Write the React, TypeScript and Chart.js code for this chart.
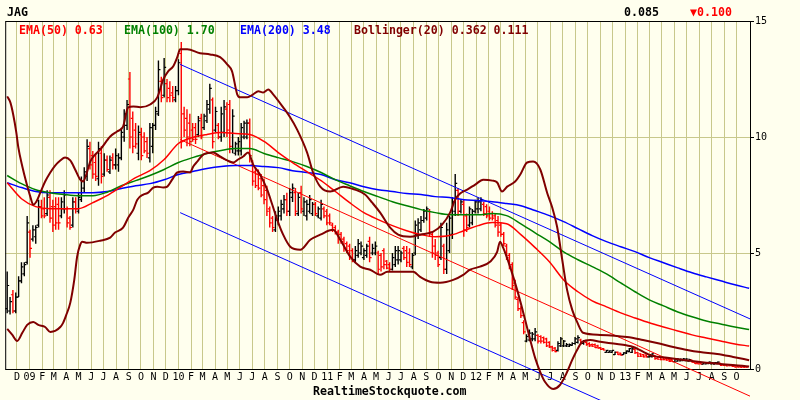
import React, { useEffect, useRef } from "react";
import { Chart, registerables } from "chart.js";

Chart.register(...registerables);

// ---------- text ----------
const TICKER = "JAG";
const LAST_PRICE = "0.085";
const CHANGE = "\u25BC0.100";
const FOOTER = "RealtimeStockquote.com";
const LEGEND_ITEMS = [
  { text: "EMA(50) 0.63", color: "#ff0000" },
  { text: "EMA(100) 1.70", color: "#008000" },
  { text: "EMA(200) 3.48", color: "#0000ff" },
  { text: "Bollinger(20) 0.362 0.111", color: "#800000" },
];
const MONTH_CODES = ["J", "F", "M", "A", "M", "J", "J", "A", "S", "O", "N", "D"];
const Y_TICKS = [0, 5, 10, 15];

// ---------- weekly OHLC (week 0 = week of 7 Nov 2008) ----------
const opens = [
  2.6, 2.5, 3.2, 2.5, 3.1, 3.8, 4.1, 4.6, 5.9, 5.6,
  5.7, 6.2, 7.0, 6.9, 6.7, 7.4, 7.0, 7.0, 7.1, 6.6,
  6.9, 6.9, 6.5, 6.2, 7.2, 6.8, 7.3, 7.8, 8.3, 9.5,
  9.2, 8.9, 8.2, 9.3, 8.4, 9.0, 8.5, 9.1, 8.8, 8.8,
  9.1, 10.0, 10.5, 12.5, 10.8, 10.3, 9.3, 10.1, 10.0, 9.8,
  9.1, 9.6, 10.5, 11.0, 12.4, 11.8, 12.3, 12.1, 11.9, 11.6,
  12.0, 13.6, 11.0, 10.8, 10.6, 10.3, 10.4, 10.1, 10.8, 10.4,
  10.7, 11.2, 11.6, 10.3, 10.5, 10.0, 10.2, 11.2, 11.4, 9.5,
  9.3, 9.4, 9.4, 10.0, 10.0, 10.6, 8.8, 8.5, 8.4, 8.2,
  7.9, 7.7, 6.9, 6.5, 6.0, 6.4, 6.6, 6.9, 7.3, 6.8,
  7.4, 7.6, 6.7, 7.6, 6.8, 6.6, 6.8, 6.7, 7.1, 6.6,
  6.5, 6.9, 6.8, 6.6, 6.2, 6.1, 5.9, 5.8, 5.6, 5.4,
  5.3, 5.1, 4.7, 4.9, 5.0, 4.8, 4.9, 5.5, 5.0, 5.0,
  5.0, 4.9, 5.1, 4.65, 4.5, 4.3, 4.5, 4.7, 4.7, 5.2,
  5.1, 5.0, 4.4, 5.0, 5.8, 6.0, 6.4, 6.5, 6.8, 5.8,
  5.3, 5.0, 4.8, 5.3, 4.3, 5.1, 5.8, 6.8, 7.7, 6.8,
  7.1, 6.6, 6.2, 6.3, 6.8, 6.9, 6.9, 7.1, 7.0, 6.8,
  6.7, 6.6, 6.4, 6.2, 5.8, 5.3, 4.9, 4.5, 3.7, 3.0,
  2.6, 2.0, 1.2, 1.25, 1.3, 1.3, 1.45, 1.4, 1.35, 1.3,
  1.15, 0.95, 0.9, 0.8, 1.0, 1.0, 1.0, 0.98, 1.02, 1.1,
  1.15, 1.25, 1.1, 1.15, 1.1, 1.05, 1.05, 1.0, 0.92, 0.88,
  0.72, 0.72, 0.72, 0.62, 0.72, 0.68, 0.62, 0.68, 0.75, 0.72,
  0.85, 0.7, 0.65, 0.62, 0.6, 0.52, 0.53, 0.58, 0.52, 0.5,
  0.48, 0.46, 0.45, 0.4, 0.32, 0.34, 0.35, 0.36, 0.36, 0.34,
  0.38, 0.29, 0.28, 0.26, 0.21, 0.22, 0.23, 0.22, 0.21, 0.23,
  0.25, 0.2, 0.18, 0.18, 0.16, 0.15, 0.13, 0.12, 0.11, 0.1,
];
const highs = [
  4.2, 3.1, 3.4, 3.3, 4.0, 4.6, 4.6, 6.6, 6.0, 6.2,
  6.2, 7.3, 7.3, 7.4, 7.7, 7.7, 7.3, 7.4, 7.4, 7.4,
  7.7, 7.0, 6.6, 7.4, 7.4, 7.6, 8.3, 8.7, 9.9, 9.8,
  9.4, 9.3, 9.8, 9.6, 9.3, 9.2, 9.2, 9.3, 9.5, 9.3,
  10.4, 11.2, 11.6, 12.8, 11.1, 10.6, 10.5, 10.4, 10.2, 10.0,
  10.6, 10.6, 11.3, 13.3, 12.6, 13.4, 12.5, 12.4, 12.2, 12.2,
  13.35, 14.1, 11.3, 11.2, 11.0, 10.6, 10.6, 10.9, 11.0, 11.0,
  11.6, 12.3, 11.7, 11.3, 10.6, 11.3, 11.6, 11.5, 11.6, 11.2,
  9.8, 10.0, 10.6, 10.7, 10.75, 10.8, 9.0, 8.7, 8.6, 8.4,
  8.2, 7.9, 7.0, 6.6, 6.8, 7.0, 7.3, 7.5, 7.6, 7.8,
  8.0, 7.8, 7.6, 7.9, 7.4, 7.3, 7.5, 7.2, 7.2, 7.0,
  7.3, 7.0, 6.9, 6.7, 6.3, 6.2, 6.0, 5.9, 5.7, 5.5,
  5.4, 5.2, 5.3, 5.6, 5.5, 5.2, 5.4, 5.7, 5.4, 5.5,
  5.1, 5.0, 5.2, 4.7, 4.6, 5.0, 5.3, 5.3, 5.1, 5.3,
  5.3, 5.2, 5.0, 6.4, 6.5, 6.6, 6.9, 7.0, 6.9, 5.9,
  5.6, 5.1, 6.3, 5.4, 6.3, 6.6, 7.4, 8.4, 7.8, 7.3,
  7.3, 6.7, 7.0, 6.9, 7.3, 7.4, 7.4, 7.2, 7.1, 7.0,
  6.8, 6.7, 6.6, 6.3, 5.9, 5.4, 5.0, 4.6, 3.85, 3.1,
  2.7, 2.1, 1.5, 1.7, 1.6, 1.77, 1.5, 1.45, 1.4, 1.35,
  1.2, 1.0, 0.95, 1.2, 1.38, 1.25, 1.12, 1.1, 1.15, 1.38,
  1.45, 1.3, 1.25, 1.2, 1.15, 1.1, 1.1, 1.05, 0.95, 0.9,
  0.82, 0.8, 0.82, 0.75, 0.75, 0.7, 0.72, 0.8, 0.9, 0.95,
  0.9, 0.73, 0.68, 0.65, 0.62, 0.65, 0.68, 0.6, 0.55, 0.52,
  0.5, 0.48, 0.47, 0.42, 0.47, 0.47, 0.45, 0.47, 0.46, 0.44,
  0.4, 0.3, 0.3, 0.28, 0.3, 0.3, 0.32, 0.3, 0.3, 0.32,
  0.26, 0.22, 0.2, 0.2, 0.18, 0.17, 0.15, 0.15, 0.13, 0.12,
];
const lows = [
  2.4, 2.35, 2.4, 2.4, 3.1, 3.7, 4.0, 4.5, 4.8, 5.5,
  5.4, 6.1, 6.5, 6.5, 6.6, 6.3, 5.9, 6.0, 6.0, 6.5,
  6.7, 6.1, 6.0, 6.1, 6.7, 6.7, 7.2, 7.6, 8.1, 8.6,
  8.2, 8.1, 7.9, 8.0, 8.3, 8.5, 8.4, 8.6, 8.6, 8.5,
  9.0, 9.8, 10.3, 9.5, 9.3, 9.5, 9.0, 9.0, 9.3, 9.1,
  8.9, 9.3, 10.3, 10.9, 11.5, 11.7, 11.5, 11.5, 11.5, 11.5,
  11.8, 9.5, 10.0, 9.6, 9.6, 9.8, 9.7, 10.0, 9.9, 10.3,
  10.6, 11.0, 9.5, 10.2, 9.9, 9.8, 10.0, 10.0, 9.3, 9.3,
  9.2, 9.2, 9.2, 9.9, 9.9, 8.9, 7.9, 7.8, 7.7, 7.4,
  7.1, 6.6, 6.1, 5.9, 5.9, 6.2, 6.4, 6.7, 6.6, 6.6,
  7.2, 6.6, 6.6, 6.7, 6.6, 6.4, 6.7, 6.6, 6.6, 6.5,
  6.4, 6.5, 6.2, 6.2, 5.9, 5.8, 5.4, 5.4, 5.05, 5.0,
  4.7, 4.6, 4.6, 4.8, 4.9, 4.7, 4.8, 4.6, 4.9, 4.9,
  4.1, 4.2, 4.3, 4.3, 4.2, 4.25, 4.4, 4.5, 4.6, 4.7,
  4.4, 4.4, 4.3, 4.9, 5.6, 5.9, 6.3, 6.4, 5.7, 4.8,
  4.7, 4.4, 4.7, 4.1, 4.1, 5.0, 5.6, 6.6, 6.6, 6.7,
  5.7, 5.9, 6.1, 6.2, 6.7, 6.7, 6.8, 6.6, 6.5, 6.4,
  6.4, 6.1, 5.7, 5.7, 5.3, 4.7, 4.3, 3.4, 3.0, 2.5,
  2.2, 1.5, 1.15, 1.2, 1.2, 1.2, 1.1, 1.1, 1.1, 0.95,
  0.9, 0.75, 0.72, 0.75, 0.95, 0.95, 0.95, 0.95, 1.0, 1.05,
  1.1, 1.05, 1.05, 1.0, 0.95, 0.95, 0.9, 0.88, 0.82, 0.8,
  0.7, 0.7, 0.7, 0.6, 0.6, 0.58, 0.6, 0.65, 0.72, 0.69,
  0.65, 0.52, 0.52, 0.5, 0.5, 0.5, 0.5, 0.4, 0.4, 0.38,
  0.38, 0.36, 0.3, 0.3, 0.3, 0.32, 0.33, 0.34, 0.33, 0.32,
  0.27, 0.22, 0.2, 0.2, 0.2, 0.21, 0.22, 0.2, 0.2, 0.22,
  0.13, 0.13, 0.12, 0.12, 0.1, 0.06, 0.06, 0.05, 0.05, 0.05,
];
const closes = [
  3.6, 2.9, 2.5, 3.1, 3.8, 4.4, 4.5, 6.3, 5.2, 6.0,
  6.1, 7.0, 6.6, 6.6, 7.5, 6.5, 6.2, 6.3, 6.3, 7.2,
  7.5, 6.3, 6.1, 7.2, 6.9, 7.4, 8.1, 8.5, 9.6, 8.8,
  8.4, 8.3, 9.5, 8.3, 9.0, 8.6, 9.0, 8.8, 9.2, 9.1,
  10.2, 11.0, 11.4, 10.0, 9.6, 9.7, 10.2, 9.2, 9.4, 9.3,
  10.4, 10.5, 11.1, 12.9, 11.7, 13.0, 11.7, 11.8, 11.7, 12.0,
  13.2, 9.8, 10.3, 10.0, 9.8, 9.9, 9.9, 10.7, 10.0, 10.9,
  11.4, 12.1, 9.8, 11.1, 10.0, 11.0, 11.3, 10.3, 9.6, 10.9,
  9.7, 9.8, 10.4, 10.6, 10.6, 9.2, 8.1, 7.9, 7.8, 7.5,
  7.3, 6.8, 6.3, 6.1, 6.6, 6.8, 7.1, 7.3, 6.8, 7.6,
  7.8, 6.8, 7.4, 6.9, 7.2, 7.1, 7.3, 7.1, 6.7, 6.9,
  7.1, 6.6, 6.3, 6.3, 6.0, 5.9, 5.6, 5.5, 5.2, 5.1,
  4.8, 4.7, 5.1, 5.4, 5.3, 5.1, 5.3, 4.8, 5.2, 5.3,
  4.3, 4.4, 4.5, 4.35, 4.3, 4.8, 5.1, 5.1, 5.0, 4.8,
  4.6, 4.5, 4.9, 6.2, 6.3, 6.4, 6.8, 6.9, 5.9, 5.0,
  4.9, 4.5, 6.1, 4.3, 6.0, 6.5, 7.2, 8.0, 6.8, 7.2,
  6.0, 6.1, 6.9, 6.8, 7.2, 7.2, 7.3, 6.7, 6.6, 6.5,
  6.5, 6.2, 5.9, 5.8, 5.4, 4.8, 4.4, 3.6, 3.1, 2.6,
  2.3, 1.6, 1.4, 1.55, 1.5, 1.6, 1.2, 1.2, 1.15, 1.0,
  0.95, 0.8, 0.75, 1.1, 1.3, 1.2, 1.05, 1.05, 1.1, 1.3,
  1.35, 1.1, 1.2, 1.05, 1.0, 0.98, 0.92, 0.9, 0.84, 0.82,
  0.8, 0.78, 0.8, 0.72, 0.62, 0.6, 0.7, 0.78, 0.88, 0.9,
  0.7, 0.55, 0.55, 0.52, 0.52, 0.62, 0.65, 0.45, 0.42, 0.4,
  0.4, 0.38, 0.33, 0.32, 0.43, 0.42, 0.42, 0.44, 0.43, 0.4,
  0.29, 0.23, 0.22, 0.21, 0.28, 0.28, 0.3, 0.27, 0.28, 0.3,
  0.15, 0.15, 0.13, 0.14, 0.11, 0.08, 0.08, 0.07, 0.07, 0.085,
];

// ---------- moving averages, one value every EMA_STEP weeks ----------
const EMA_STEP = 5;
const ema50 = [
  8.03, 7.34, 7.0, 6.91, 6.91, 6.91, 7.17, 7.47, 7.86, 8.25,
  8.55, 9.03, 9.72, 9.98, 10.11, 10.19, 10.15, 10.11, 9.81, 9.33,
  8.9, 8.51, 8.12, 7.65, 7.17, 6.74, 6.44, 6.18, 5.96, 5.79,
  5.7, 5.75, 5.96, 6.18, 6.31, 6.26, 5.79, 5.23, 4.62, 3.84,
  3.33, 2.94, 2.68, 2.42, 2.2, 1.99, 1.81, 1.64, 1.47, 1.34,
  1.21, 1.08, 0.99,
];
const ema100 = [
  8.34, 7.99, 7.73, 7.6, 7.52, 7.47, 7.47, 7.62, 7.9, 8.12,
  8.34, 8.6, 8.9, 9.11, 9.29, 9.42, 9.5, 9.5, 9.29, 9.11,
  8.94, 8.73, 8.47, 8.16, 7.9, 7.65, 7.43, 7.21, 7.04, 6.87,
  6.74, 6.65, 6.65, 6.65, 6.7, 6.61, 6.26, 5.87, 5.49, 5.05,
  4.71, 4.41, 4.1, 3.71, 3.33, 2.98, 2.72, 2.46, 2.25, 2.07,
  1.94, 1.81, 1.7,
];
const ema200 = [
  8.03, 7.82, 7.65, 7.6, 7.6, 7.6, 7.6, 7.65, 7.78, 7.9,
  7.99, 8.16, 8.38, 8.51, 8.64, 8.73, 8.77, 8.77, 8.73, 8.68,
  8.55, 8.47, 8.38, 8.16, 8.03, 7.86, 7.73, 7.65, 7.56, 7.52,
  7.43, 7.39, 7.3, 7.26, 7.21, 7.13, 7.04, 6.83, 6.61, 6.35,
  6.05, 5.75, 5.49, 5.27, 5.06, 4.8, 4.58, 4.36, 4.15, 3.97,
  3.8, 3.63, 3.48,
];

// ---------- Bollinger(20) bands: [week, value] ----------
const bbUpper = [
  [0, 11.75], [1.1, 11.49], [2.1, 10.97], [3.2, 10.19], [3.9, 9.55], [5.3, 8.73], [6.7, 8.04], [8.1, 7.43],
  [9.1, 7.08], [10.2, 7.21], [11.6, 7.6], [13.3, 8.08], [15.1, 8.47], [16.8, 8.77], [18.6, 8.99], [20.3, 9.12],
  [22.1, 8.99], [23.8, 8.6], [25.6, 8.16], [26.6, 8.08], [27.7, 8.38], [29.1, 8.94], [30.8, 9.24], [32.6, 9.46],
  [36.1, 10.02], [38.5, 10.24], [40.6, 10.45], [42.4, 11.28], [44.2, 11.32], [46.6, 11.28], [50.1, 11.4],
  [52.6, 11.71], [54.7, 12.48], [56.4, 12.83], [58.2, 13.05], [59.6, 13.44], [60.6, 13.78], [63.1, 13.78],
  [67.6, 13.61], [71.1, 13.56], [74.6, 13.44], [77.1, 13.13], [78.8, 12.83], [80.6, 11.84], [81.6, 11.71],
  [84.1, 11.71], [86.2, 11.84], [88.0, 11.97], [89.7, 11.92], [91.5, 12.05], [93.2, 11.84], [96.7, 11.28],
  [99.2, 10.84], [101.6, 10.32], [105.1, 9.33], [107.2, 8.47], [109.7, 7.86], [113.2, 7.65], [117.7, 7.86],
  [121.9, 7.73], [125.4, 7.52], [127.9, 7.17], [130.7, 6.74], [134.2, 6.09], [137.0, 5.79], [141.2, 5.7],
  [144.7, 5.79], [149.3, 5.92], [152.4, 6.22], [155.2, 6.74], [157.0, 7.3], [158.7, 7.56], [161.2, 7.73],
  [164.0, 7.95], [166.8, 8.16], [170.0, 8.12], [171.7, 8.04], [173.4, 7.65], [175.2, 7.86], [178.0, 8.08],
  [179.8, 8.38], [182.2, 8.9], [184.3, 8.94], [186.8, 8.6], [189.2, 7.6], [191.0, 6.96], [192.7, 6.13],
  [194.5, 4.71], [196.2, 3.41], [198.0, 2.55], [199.7, 2.03], [201.8, 1.56], [207.8, 1.47], [217.2, 1.38],
  [222.8, 1.25], [227.7, 1.12], [233.4, 0.95], [238.3, 0.82], [242.8, 0.73], [248.8, 0.65], [254.4, 0.52],
  [260.0, 0.38],
];
const bbLower = [
  [0, 1.73], [1.8, 1.47], [3.5, 1.21], [5.3, 1.56], [7.0, 1.9], [9.1, 2.03], [10.9, 1.9], [13.3, 1.81],
  [15.1, 1.6], [16.8, 1.64], [18.6, 1.81], [19.6, 1.99], [20.7, 2.33], [22.1, 2.85], [23.5, 3.84], [24.5, 4.84],
  [25.6, 5.36], [26.3, 5.49], [28.0, 5.44], [32.6, 5.53], [36.1, 5.66], [37.8, 5.88], [40.6, 6.09], [42.4, 6.52],
  [44.2, 6.87], [45.6, 7.3], [47.7, 7.52], [49.4, 7.6], [51.2, 7.82], [52.6, 7.86], [54.7, 7.82], [56.1, 7.86],
  [57.8, 8.16], [59.6, 8.47], [61.7, 8.51], [64.1, 8.47], [65.2, 8.73], [66.6, 8.94], [68.7, 9.24], [72.2, 9.33],
  [74.6, 9.16], [77.1, 8.99], [79.2, 8.9], [80.9, 9.03], [82.7, 9.16], [84.4, 9.33], [86.2, 8.81], [88.6, 8.38],
  [91.1, 7.73], [92.9, 7.08], [94.6, 6.44], [96.7, 5.79], [99.2, 5.27], [102.7, 5.14], [106.2, 5.57],
  [109.7, 5.79], [114.2, 6.0], [116.7, 5.57], [120.2, 4.84], [123.7, 4.41], [127.2, 4.28], [130.7, 4.06],
  [133.2, 4.19], [137.7, 4.19], [142.3, 4.19], [144.7, 3.97], [148.2, 3.76], [151.7, 3.72], [156.3, 3.84],
  [159.8, 4.06], [162.2, 4.28], [165.7, 4.41], [169.2, 4.62], [171.7, 5.05], [172.7, 5.49], [173.8, 5.23],
  [176.2, 4.41], [178.7, 3.41], [181.5, 2.12], [183.3, 1.25], [185.0, 0.48], [186.8, -0.13], [188.5, -0.56],
  [191.3, -0.86], [193.7, -0.69], [196.2, -0.13], [198.0, 0.39], [199.7, 0.82], [201.5, 1.17], [204.3, 1.25],
  [207.8, 1.17], [213.7, 1.08], [219.4, 0.95], [225.3, 0.6], [231.3, 0.48], [242.8, 0.3], [260.0, 0.11],
];

// ---------- trend channel lines: [week, value] ----------
const channelUpper = [[60.6, 13.13], [260.3, 2.16]];
const channelLower = [[60.6, 6.74], [260.3, -4.23]];
const trendRed = [[60.6, 9.89], [260.3, -1.17]];

// ---------- styling ----------
const BG = "#ffffee";
const GRID = "#c8c88c";
const MONO = '"DejaVu Sans Mono", "Liberation Mono", monospace';
const BOLD_FONT = `bold 11.6px ${MONO}`;
const X_MIN = -0.7;
const X_MAX = 260.3;
const FIRST_WEEK_UTC = Date.UTC(2008, 10, 7);
const WEEK_MS = 7 * 24 * 3600 * 1000;

function buildMonths() {
  const out: { value: number; label: string }[] = [];
  let y = 2008;
  let m = 11;
  while (y < 2013 || (y === 2013 && m <= 9)) {
    const w = (Date.UTC(y, m, 1) - FIRST_WEEK_UTC) / WEEK_MS;
    out.push({ value: w, label: m === 0 ? String(y % 100).padStart(2, "0") : MONTH_CODES[m] });
    m++;
    if (m > 11) {
      m = 0;
      y++;
    }
  }
  return out;
}
const MONTHS = buildMonths();

const barColor = (i: number) => (closes[i] >= opens[i] ? "#000000" : "#ff0000");
const pairs = (arr: number[][]) => arr.map(([x, y]) => ({ x, y }));
const stepped = (arr: number[]) => arr.map((y, i) => ({ x: i * EMA_STEP, y }));

const decorPlugin = {
  id: "decor",
  beforeDraw(chart: any) {
    const { ctx, width, height } = chart;
    ctx.save();
    ctx.fillStyle = BG;
    ctx.fillRect(0, 0, width, height);
    ctx.restore();
  },
  beforeDatasetsDraw(chart: any) {
    const { ctx, chartArea: a } = chart;
    ctx.save();
    ctx.strokeStyle = "#000";
    ctx.lineWidth = 1;
    ctx.strokeRect(a.left + 0.5, a.top + 0.5, a.right - a.left, a.bottom - a.top);
    ctx.restore();
  },
  afterDraw(chart: any) {
    const { ctx } = chart;
    ctx.save();
    ctx.font = BOLD_FONT;
    ctx.textBaseline = "alphabetic";
    ctx.textAlign = "left";
    ctx.fillStyle = "#000";
    ctx.fillText(TICKER, 7, 16);
    ctx.fillText(LAST_PRICE, 624, 16);
    ctx.fillStyle = "#ff0000";
    ctx.fillText(CHANGE, 690, 16);
    const xs = [19, 124, 240, 354];
    LEGEND_ITEMS.forEach((it, i) => {
      ctx.fillStyle = it.color;
      ctx.fillText(it.text, xs[i], 34);
    });
    ctx.fillStyle = "#000";
    ctx.fillText(FOOTER, 313, 395);
    ctx.restore();
  },
};

export default function App() {
  const ref = useRef<HTMLCanvasElement | null>(null);
  useEffect(() => {
    if (!ref.current) return;
    const weeks = opens.map((_, i) => i);
    const lineBase = { pointRadius: 0, fill: false, cubicInterpolationMode: "monotone" as const };
    const chart = new Chart(ref.current, {
      type: "bar",
      data: {
        datasets: [
          { type: "line", data: pairs(bbUpper), borderColor: "#800000", borderWidth: 2, clip: false, ...lineBase },
          { type: "line", data: pairs(bbLower), borderColor: "#800000", borderWidth: 2, clip: false, ...lineBase },
          { type: "line", data: stepped(ema50), borderColor: "#ff0000", borderWidth: 1.5, ...lineBase },
          { type: "line", data: stepped(ema100), borderColor: "#008000", borderWidth: 1.5, ...lineBase },
          { type: "line", data: stepped(ema200), borderColor: "#0000ff", borderWidth: 1.5, ...lineBase },
          { type: "line", data: pairs(channelUpper), borderColor: "#0000ff", borderWidth: 1, clip: false, pointRadius: 0 },
          { type: "line", data: pairs(channelLower), borderColor: "#0000ff", borderWidth: 1, clip: false, pointRadius: 0 },
          { type: "line", data: pairs(trendRed), borderColor: "#ff0000", borderWidth: 1, clip: false, pointRadius: 0 },
          {
            type: "scatter",
            data: weeks.map((i) => ({ x: i - 0.35, y: opens[i] })),
            pointStyle: "line",
            pointRadius: 1,
            pointBorderWidth: 1.2,
            pointBorderColor: (c: any) => barColor(c.dataIndex),
            pointBackgroundColor: (c: any) => barColor(c.dataIndex),
          },
          {
            type: "scatter",
            data: weeks.map((i) => ({ x: i + 0.35, y: closes[i] })),
            pointStyle: "line",
            pointRadius: 1,
            pointBorderWidth: 1.2,
            pointBorderColor: (c: any) => barColor(c.dataIndex),
            pointBackgroundColor: (c: any) => barColor(c.dataIndex),
          },
          {
            type: "bar",
            data: weeks.map((i) => ({ x: i, y: [lows[i], highs[i]] })),
            backgroundColor: (c: any) => barColor(c.dataIndex),
            borderWidth: 0,
            barThickness: 1.4,
            inflateAmount: 0,
          },
        ] as any,
      },
      options: {
        animation: false,
        responsive: false,
        events: [],
        layout: { padding: { left: 5, top: 21, right: 0, bottom: 0 } },
        plugins: { legend: { display: false }, tooltip: { enabled: false } },
        scales: {
          x: {
            type: "linear",
            min: X_MIN,
            max: X_MAX,
            offset: false,
            afterBuildTicks: (s: any) => {
              s.ticks = MONTHS.map((m) => ({ value: m.value }));
            },
            afterFit: (s: any) => {
              s.height = 31;
            },
            grid: { color: GRID, lineWidth: 1, drawTicks: false, offset: false },
            border: { display: false },
            ticks: {
              autoSkip: false,
              maxRotation: 0,
              minRotation: 0,
              padding: 2,
              color: "#000",
              font: { family: MONO, size: 10 },
              callback: (_v: any, i: number) => (MONTHS[i] ? MONTHS[i].label : ""),
            },
          },
          y: {
            type: "linear",
            position: "right",
            min: 0,
            max: 15,
            afterBuildTicks: (s: any) => {
              s.ticks = Y_TICKS.map((v) => ({ value: v }));
            },
            afterFit: (s: any) => {
              s.width = 50;
            },
            grid: { color: GRID, lineWidth: 1, tickColor: "#000", tickLength: 4 },
            border: { display: false },
            ticks: { padding: 1, color: "#000", font: { family: MONO, size: 10 } },
          },
        },
      } as any,
      plugins: [decorPlugin],
    });
    return () => chart.destroy();
  }, []);
  return (
    <div style={{ position: "fixed", left: 0, top: 0, width: 800, height: 400 }}>
      <canvas ref={ref} width={800} height={400} style={{ width: 800, height: 400, display: "block" }} />
    </div>
  );
}
